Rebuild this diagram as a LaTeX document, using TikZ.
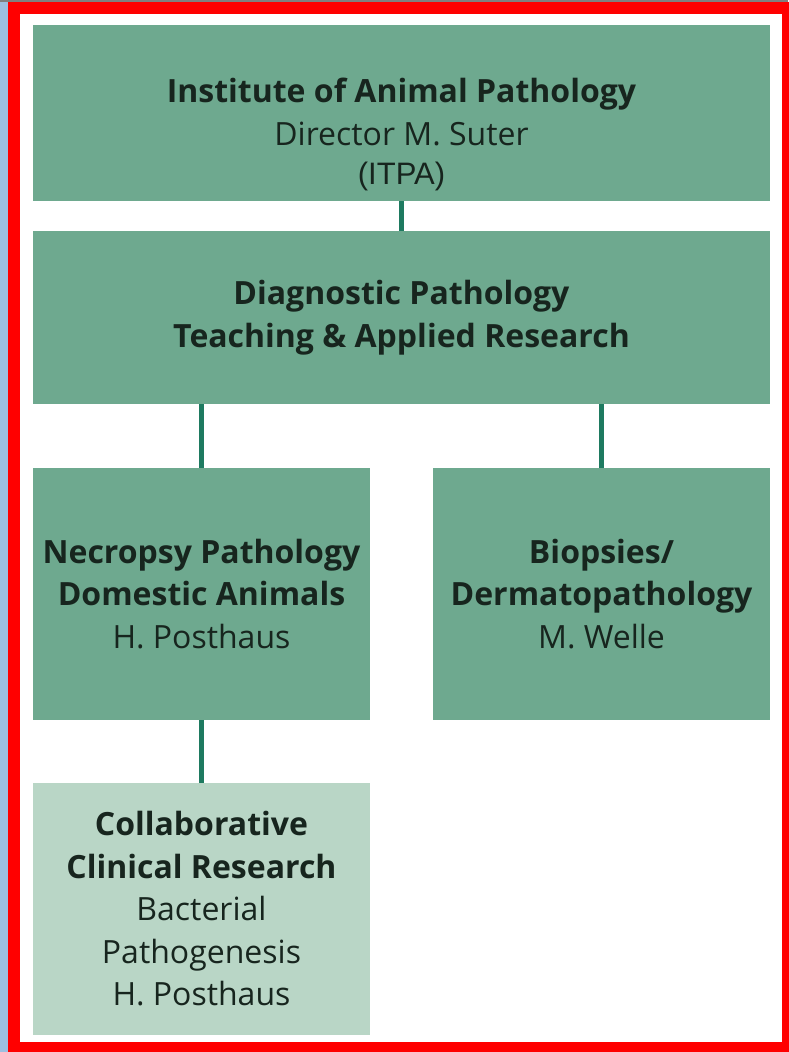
\documentclass[tikz,border=0pt]{standalone}
\usepackage{fontspec}
\setmainfont{Open Sans}
\newfontfamily\arialfont{Liberation Sans}
\definecolor{boxgreen}{HTML}{6EA98F}
\definecolor{palegreen}{HTML}{B9D6C6}
\definecolor{linkgreen}{HTML}{1E7A60}
\definecolor{inktext}{HTML}{17251E}
\definecolor{sideblue}{HTML}{9DBFE0}
\begin{document}
\begin{tikzpicture}[ x=1pt, y=-1pt,
  unit/.style={ fill=boxgreen, text=inktext, align=center, inner sep=0pt,
    minimum width=337pt, minimum height=252pt, font=\fontsize{32}{42.5}\selectfont },
  wide/.style={ unit, minimum width=737pt },
  link/.style={ linkgreen, line width=5pt } ]
  \useasboundingbox (0,0) rectangle (788,1052);
  \fill [ sideblue ] (0,0) rectangle (8,1052);
  \fill [ gray ] (0,0) rectangle (788,2);
  \draw [ red, line width=12pt ] (14,8) rectangle (788,1048);

  \node [ wide, minimum height=176pt ] (itpa) at (401.5,113)
    { \rule{0pt}{68pt}\textbf{Institute of Animal Pathology}\\ Director M. Suter\\[-3pt]
      {\arialfont\fontsize{31}{40}\selectfont (ITPA)} };
  \node [ wide, minimum height=173pt ] (diag) at (401.5,317.5)
    { \textbf{Diagnostic Pathology}\\ \textbf{Teaching \& Applied Research} };
  \node [ unit ] (necropsy) at (201.5,594)
    { \textbf{Necropsy Pathology}\\ \textbf{Domestic Animals}\\ H. Posthaus };
  \node [ unit ] (biopsy) at (601.5,594)
    { \textbf{Biopsies/}\\ \textbf{Dermatopathology}\\ M. Welle };
  \node [ unit, fill=palegreen ] (collab) at (201.5,909)
    { \textbf{Collaborative}\\ \textbf{Clinical Research}\\ Bacterial\\ Pathogenesis\\ H. Posthaus };

  \draw [ link ] (itpa.south) -- (diag.north);
  \draw [ link ] (diag.south -| necropsy.north) -- (necropsy.north);
  \draw [ link ] (diag.south -| biopsy.north) -- (biopsy.north);
  \draw [ link ] (necropsy.south) -- (collab.north);
\end{tikzpicture}
\end{document}
